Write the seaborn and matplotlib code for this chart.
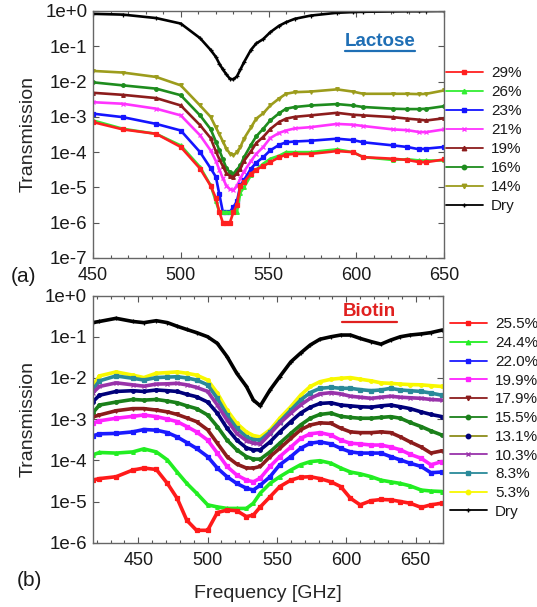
import numpy as np
import pandas as pd
import matplotlib
matplotlib.use("Agg")
import matplotlib.pyplot as plt
from matplotlib.lines import Line2D
from matplotlib.ticker import FixedLocator, MultipleLocator, FuncFormatter, NullLocator
import seaborn as sns

# ---------------- panel (a): lactose ----------------
FREQ_A = [450, 467, 486, 500, 511, 517, 520, 522, 524, 526, 528, 530, 532, 534, 536,
          540, 543, 547, 551, 556, 560, 565, 574, 589, 598, 604, 621, 629, 636, 640, 650]

LAC_DRY = [8.3e-1, 7.9e-1, 6.3e-1, 4.4e-1, 1.7e-1, 7.9e-2, 5.0e-2, 3.2e-2, 2.2e-2, 1.6e-2,
           1.2e-2, 1.15e-2, 1.4e-2, 2.2e-2, 3.5e-2, 7.9e-2, 1.2e-1, 1.6e-1, 2.5e-1, 3.8e-1,
           4.8e-1, 6.0e-1, 7.4e-1, 8.9e-1, 9.3e-1, 9.5e-1, 9.7e-1, 9.8e-1, 9.8e-1, 9.9e-1, 1.0]
LAC_14 = [2.0e-2, 1.8e-2, 1.35e-2, 7.8e-3, 2.1e-3, 1.0e-3, 5.0e-4, 3.2e-4, 2.0e-4, 1.26e-4,
          9.1e-5, 8.1e-5, 1.0e-4, 1.4e-4, 2.4e-4, 5.0e-4, 8.9e-4, 1.26e-3, 2.1e-3, 3.3e-3,
          4.5e-3, 5.0e-3, 5.2e-3, 6.0e-3, 5.2e-3, 4.5e-3, 4.5e-3, 4.5e-3, 4.4e-3, 4.5e-3, 5.6e-3]
LAC_16 = [9.5e-3, 7.8e-3, 6.3e-3, 4.1e-3, 1.1e-3, 4.5e-4, 2.0e-4, 1.12e-4, 6.3e-5, 3.5e-5,
          2.7e-5, 2.45e-5, 3.2e-5, 4.2e-5, 7.1e-5, 1.6e-4, 2.8e-4, 4.6e-4, 7.9e-4, 1.26e-3,
          1.7e-3, 1.9e-3, 2.1e-3, 2.3e-3, 2.1e-3, 1.9e-3, 1.7e-3, 1.66e-3, 1.66e-3, 1.7e-3, 2.0e-3]
LAC_19 = [4.8e-3, 4.2e-3, 3.4e-3, 2.1e-3, 5.8e-4, 2.5e-4, 1.05e-4, 6.3e-5, 4.0e-5, 2.5e-5,
          2.1e-5, 1.95e-5, 2.5e-5, 3.4e-5, 5.6e-5, 1.05e-4, 1.8e-4, 2.7e-4, 4.5e-4, 7.1e-4,
          8.9e-4, 1.0e-3, 1.1e-3, 1.3e-3, 1.15e-3, 1.1e-3, 9.8e-4, 8.9e-4, 8.3e-4, 7.9e-4, 9.1e-4]
LAC_21 = [2.6e-3, 2.35e-3, 1.7e-3, 1.1e-3, 3.0e-4, 1.12e-4, 5.6e-5, 3.2e-5, 1.8e-5, 1.12e-5,
          8.9e-6, 8.3e-6, 1.12e-5, 1.8e-5, 2.8e-5, 5.6e-5, 8.9e-5, 1.4e-4, 2.5e-4, 3.5e-4,
          4.1e-4, 4.7e-4, 5.1e-4, 6.3e-4, 6.0e-4, 5.5e-4, 4.4e-4, 4.2e-4, 3.7e-4, 3.7e-4, 4.4e-4]
LAC_23 = [1.23e-3, 9.8e-4, 6.3e-4, 4.1e-4, 1.0e-4, 3.5e-5, 2.0e-5, 6.3e-6, 2.0e-6, 2.0e-6,
          2.0e-6, 2.8e-6, 4.0e-6, 1.15e-5, 1.6e-5, 3.4e-5, 5.0e-5, 7.2e-5, 1.12e-4, 1.6e-4,
          1.9e-4, 2.0e-4, 2.1e-4, 2.4e-4, 2.2e-4, 1.9e-4, 1.55e-4, 1.4e-4, 1.2e-4, 1.26e-4, 1.4e-4]
LAC_26 = [7.9e-4, 4.6e-4, 3.3e-4, 1.55e-4, 3.8e-5, 1.15e-5, 4.0e-6, 2.0e-6, 2.0e-6, 2.0e-6,
          2.0e-6, 2.0e-6, 2.0e-6, 7.1e-6, 1.0e-5, 2.2e-5, 3.2e-5, 4.7e-5, 6.5e-5, 7.9e-5,
          1.0e-4, 1.0e-4, 1.0e-4, 1.2e-4, 1.0e-4, 7.2e-5, 6.0e-5, 6.3e-5, 5.8e-5, 5.8e-5, 5.8e-5]
LAC_29 = [7.1e-4, 4.4e-4, 3.3e-4, 1.4e-4, 3.4e-5, 1.12e-5, 5.0e-6, 2.0e-6, 1.0e-6, 1.0e-6,
          1.0e-6, 2.0e-6, 3.2e-6, 1.12e-5, 1.4e-5, 2.45e-5, 3.2e-5, 4.0e-5, 5.2e-5, 7.1e-5,
          8.5e-5, 8.9e-5, 8.9e-5, 1.07e-4, 1.0e-4, 7.2e-5, 6.5e-5, 6.0e-5, 5.2e-5, 5.2e-5, 6.2e-5]

LABELS_A = ["29%", "26%", "23%", "21%", "19%", "16%", "14%", "Dry"]
SERIES_A = [LAC_29, LAC_26, LAC_23, LAC_21, LAC_19, LAC_16, LAC_14, LAC_DRY]
COLORS_A = ["#ff2020", "#33ee33", "#1414ff", "#ff33ff", "#8c1c1c", "#1e8c1e", "#9c9c1c", "#000000"]
MARKERS_A = ["s", "^", "s", "x", "^", "o", "v", "+"]

# ---------------- panel (b): biotin ----------------
FREQ_B = [417, 422, 434, 446, 454, 463, 471, 478, 485, 492, 500, 507, 514, 521, 528, 533, 538,
          545, 552, 560, 567, 574, 581, 589, 596, 603, 610, 618, 625, 632, 639, 646, 654, 661, 669]

BIO_DRY = [2.2e-1, 2.35e-1, 2.8e-1, 2.35e-1, 2.2e-1, 2.45e-1, 2.2e-1, 1.8e-1, 1.5e-1, 1.26e-1,
           1.0e-1, 6.9e-2, 3.3e-2, 1.3e-2, 6.2e-3, 2.9e-3, 2.1e-3, 5.1e-3, 1.07e-2, 2.45e-2,
           4.0e-2, 6.3e-2, 8.7e-2, 1.0e-1, 1.1e-1, 1.1e-1, 9.1e-2, 7.6e-2, 6.6e-2, 8.3e-2,
           1.0e-1, 1.1e-1, 1.17e-1, 1.26e-1, 1.45e-1]
BIO_53 = [6.2e-3, 1.12e-2, 1.4e-2, 1.17e-2, 1.02e-2, 1.3e-2, 1.35e-2, 1.4e-2, 1.3e-2, 1.17e-2,
          8.9e-3, 4.3e-3, 1.66e-3, 7.9e-4, 4.9e-4, 4.0e-4, 3.7e-4, 5.5e-4, 1.05e-3, 2.0e-3,
          3.8e-3, 6.2e-3, 8.1e-3, 9.3e-3, 9.8e-3, 1.02e-2, 9.3e-3, 8.5e-3, 7.6e-3, 7.4e-3,
          7.1e-3, 6.9e-3, 6.8e-3, 6.5e-3, 6.2e-3]
BIO_83 = [5.1e-3, 8.5e-3, 1.12e-2, 9.8e-3, 8.9e-3, 1.02e-2, 1.05e-2, 1.07e-2, 1.0e-2, 8.9e-3,
          6.8e-3, 3.2e-3, 1.26e-3, 6.0e-4, 3.7e-4, 3.2e-4, 3.1e-4, 4.9e-4, 8.7e-4, 1.66e-3,
          2.9e-3, 4.4e-3, 5.6e-3, 5.9e-3, 5.6e-3, 5.6e-3, 5.2e-3, 4.9e-3, 5.1e-3, 5.6e-3,
          5.1e-3, 4.9e-3, 4.7e-3, 4.3e-3, 3.8e-3]
BIO_103 = [4.3e-3, 6.2e-3, 7.6e-3, 6.8e-3, 6.3e-3, 7.1e-3, 7.2e-3, 7.4e-3, 6.8e-3, 5.9e-3,
           4.7e-3, 2.2e-3, 9.5e-4, 4.5e-4, 3.0e-4, 2.6e-4, 2.5e-4, 4.4e-4, 7.9e-4, 1.4e-3,
           2.2e-3, 3.2e-3, 4.1e-3, 4.4e-3, 4.1e-3, 3.6e-3, 3.4e-3, 3.2e-3, 3.4e-3, 3.6e-3,
           3.4e-3, 3.3e-3, 3.2e-3, 3.0e-3, 2.9e-3]
BIO_131 = [2.6e-3, 3.8e-3, 4.7e-3, 4.9e-3, 4.7e-3, 5.1e-3, 4.9e-3, 4.7e-3, 4.0e-3, 3.5e-3,
           2.6e-3, 1.4e-3, 6.0e-4, 3.1e-4, 2.0e-4, 1.8e-4, 1.8e-4, 2.8e-4, 4.9e-4, 8.7e-4,
           1.4e-3, 1.95e-3, 2.4e-3, 2.5e-3, 2.2e-3, 2.1e-3, 2.0e-3, 1.95e-3, 2.1e-3, 2.2e-3,
           2.0e-3, 1.8e-3, 1.5e-3, 1.3e-3, 1.15e-3]
BIO_155 = [1.4e-3, 2.2e-3, 2.6e-3, 3.0e-3, 2.9e-3, 3.0e-3, 2.75e-3, 2.5e-3, 2.1e-3, 1.8e-3,
           1.26e-3, 6.6e-4, 3.1e-4, 1.8e-4, 1.23e-4, 1.07e-4, 1.07e-4, 1.6e-4, 2.6e-4, 4.5e-4,
           7.2e-4, 1.05e-3, 1.3e-3, 1.4e-3, 1.17e-3, 1.1e-3, 1.05e-3, 1.05e-3, 1.1e-3, 1.15e-3,
           1.05e-3, 8.3e-4, 6.6e-4, 5.2e-4, 4.1e-4]
BIO_179 = [1.12e-3, 1.26e-3, 1.6e-3, 1.8e-3, 1.8e-3, 1.66e-3, 1.5e-3, 1.3e-3, 1.07e-3, 8.7e-4,
           5.5e-4, 2.6e-4, 1.23e-4, 8.1e-5, 6.5e-5, 6.5e-5, 7.1e-5, 1.23e-4, 1.95e-4, 3.4e-4,
           5.5e-4, 7.2e-4, 8.1e-4, 7.9e-4, 6.0e-4, 4.9e-4, 4.7e-4, 4.7e-4, 4.9e-4, 4.7e-4,
           3.7e-4, 2.8e-4, 2.1e-4, 1.5e-4, 1.7e-4]
BIO_199 = [7.9e-4, 9.1e-4, 1.05e-3, 1.17e-3, 1.26e-3, 1.15e-3, 1.0e-3, 8.7e-4, 6.6e-4, 4.9e-4,
           3.1e-4, 1.5e-4, 7.1e-5, 4.4e-5, 3.3e-5, 3.0e-5, 3.7e-5, 7.1e-5, 1.23e-4, 2.1e-4,
           3.4e-4, 4.4e-4, 4.7e-4, 4.1e-4, 3.1e-4, 2.6e-4, 2.5e-4, 2.35e-4, 2.35e-4, 2.1e-4,
           1.8e-4, 1.4e-4, 1.12e-4, 7.8e-5, 9.3e-5]
BIO_220 = [3.9e-4, 4.4e-4, 4.5e-4, 4.9e-4, 5.6e-4, 5.4e-4, 4.7e-4, 3.7e-4, 2.7e-4, 1.95e-4,
           1.23e-4, 6.5e-5, 4.0e-5, 2.75e-5, 2.1e-5, 1.9e-5, 2.5e-5, 4.0e-5, 7.8e-5, 1.23e-4,
           1.95e-4, 2.6e-4, 2.8e-4, 2.5e-4, 1.95e-4, 1.6e-4, 1.5e-4, 1.5e-4, 1.5e-4, 1.23e-4,
           1.02e-4, 8.5e-5, 7.1e-5, 5.0e-5, 5.2e-5]
BIO_244 = [1.35e-4, 1.55e-4, 1.5e-4, 1.6e-4, 1.9e-4, 1.6e-4, 1.02e-4, 5.2e-5, 2.75e-5, 1.6e-5,
           8.3e-6, 7.4e-6, 6.8e-6, 6.8e-6, 6.8e-6, 9.1e-6, 1.6e-5, 2.75e-5, 4.0e-5, 5.8e-5,
           7.8e-5, 9.3e-5, 9.8e-5, 8.5e-5, 6.5e-5, 5.2e-5, 4.7e-5, 4.0e-5, 3.3e-5, 3.0e-5,
           2.75e-5, 2.4e-5, 1.9e-5, 1.8e-5, 1.75e-5]
BIO_255 = [3.3e-5, 3.6e-5, 4.0e-5, 5.8e-5, 6.5e-5, 6.0e-5, 2.75e-5, 1.2e-5, 3.5e-6, 2.0e-6,
           2.0e-6, 5.4e-6, 6.2e-6, 6.0e-6, 4.3e-6, 4.7e-6, 7.4e-6, 1.3e-5, 2.3e-5, 3.3e-5,
           3.9e-5, 4.0e-5, 3.6e-5, 3.0e-5, 2.3e-5, 1.2e-5, 8.3e-6, 1.05e-5, 1.12e-5, 1.1e-5,
           1.0e-5, 9.1e-6, 7.2e-6, 8.3e-6, 9.1e-6]

LABELS_B = ["25.5%", "24.4%", "22.0%", "19.9%", "17.9%", "15.5%", "13.1%", "10.3%", "8.3%",
            "5.3%", "Dry"]
SERIES_B = [BIO_255, BIO_244, BIO_220, BIO_199, BIO_179, BIO_155, BIO_131, BIO_103, BIO_83,
            BIO_53, BIO_DRY]
COLORS_B = ["#ff1a1a", "#22ee22", "#1a1aff", "#ff22ff", "#8c1c1c", "#1a801a", "#00007a",
            "#9933aa", "#2a8a9a", "#f8f800", "#000000"]
MARKERS_B = ["s", "^", "s", "s", "v", "o", "o", "x", "s", "o", "+"]
# the 13.1 % key shows an olive line with a navy marker
LEGEND_LINE_B = list(COLORS_B)
LEGEND_LINE_B[6] = "#8c8c1a"

sns.set_style("ticks")
plt.rcParams["font.family"] = ["Liberation Sans", "DejaVu Sans"]
plt.rcParams["text.color"] = "#1a1a1a"

fig = plt.figure(figsize=(5.37, 6.07), dpi=100)
ax_a = fig.add_axes([0.1732, 0.575, 0.6536, 0.4069])
ax_b = fig.add_axes([0.1723, 0.1059, 0.6533, 0.4072])


def draw(ax, freq, series, colors, markers, lw, ms):
    for vals, c, m in reversed(list(zip(series, colors, markers))):
        df = pd.DataFrame({"freq": freq, "T": vals})
        sns.lineplot(data=df, x="freq", y="T", ax=ax, color=c, marker=m,
                     linewidth=lw, markersize=ms, markeredgewidth=0.9,
                     markeredgecolor=None, estimator=None, sort=False, legend=False)


draw(ax_a, FREQ_A, SERIES_A, COLORS_A, MARKERS_A, 1.9, 2.6)
draw(ax_b, FREQ_B, SERIES_B, COLORS_B, MARKERS_B, 2.6, 2.6)

exp_fmt = FuncFormatter(lambda v, pos: "1e{:+d}".format(int(round(np.log10(v)))))


def style(ax, xlim, ylow, xstep):
    ax.set_yscale("log")
    ax.set_xlim(*xlim)
    ax.set_ylim(10.0 ** ylow, 1.0)
    ax.yaxis.set_major_locator(FixedLocator([10.0 ** k for k in range(ylow, 1)]))
    ax.yaxis.set_minor_locator(NullLocator())
    ax.yaxis.set_major_formatter(exp_fmt)
    ax.xaxis.set_major_locator(MultipleLocator(xstep))
    ax.xaxis.set_minor_locator(MultipleLocator(10))
    ax.tick_params(which="both", direction="in", top=True, right=True,
                   colors="#555555", labelcolor="#1a1a1a", width=0.8)
    ax.tick_params(which="major", length=4)
    ax.tick_params(which="minor", length=2.5)
    ax.tick_params(axis="x", pad=6.5, labelsize=13)
    ax.tick_params(axis="y", pad=4, labelsize=13.5)
    for sp in ax.spines.values():
        sp.set_color("#666666")
        sp.set_linewidth(1.0)
    ax.set_xlabel("")
    ax.set_ylabel("Transmission", fontsize=14)


style(ax_a, (450, 650), -7, 50)
style(ax_b, (417, 670), -6, 50)
ax_a.yaxis.set_label_coords(-0.162, 0.5)
ax_b.yaxis.set_label_coords(-0.160, 0.5)
ax_b.set_xlabel("Frequency [GHz]", fontsize=14)
ax_b.xaxis.set_label_coords(0.5, -0.172)


def key(labels, line_colors, marker_colors, markers, anchor, spacing):
    handles = [Line2D([], [], color=lc, marker=m, markersize=3.2, markeredgewidth=1.0,
                      markerfacecolor=mc, markeredgecolor=mc, linewidth=1.3)
               for lc, mc, m in zip(line_colors, marker_colors, markers)]
    fig.legend(handles, labels, loc="upper left", bbox_to_anchor=anchor,
               frameon=False, fontsize=11, handlelength=2.4, handletextpad=0.55,
               labelspacing=spacing, borderpad=0, borderaxespad=0)


key(LABELS_A, COLORS_A, COLORS_A, MARKERS_A, (0.8305, 0.8915), 0.33)
key(LABELS_B, LEGEND_LINE_B, COLORS_B, MARKERS_B, (0.838, 0.477), 0.31)

fig.text(380 / 537, 1 - 41 / 607, "Lactose", color="#1f6fb5", fontsize=13.5,
         fontweight="bold", ha="center", va="center")
fig.add_artist(Line2D([345 / 537, 415 / 537], [1 - 50.5 / 607, 1 - 50.5 / 607],
                      color="#1f6fb5", linewidth=1.6))
fig.text(369.5 / 537, 1 - 311.7 / 607, "Biotin", color="#e0201f", fontsize=13.5,
         fontweight="bold", ha="center", va="center")
fig.add_artist(Line2D([341.7 / 537, 397.3 / 537], [1 - 322.3 / 607, 1 - 322.3 / 607],
                      color="#e0201f", linewidth=1.6))

fig.text(23 / 537, 1 - 276 / 607, "(a)", fontsize=15, ha="center", va="center")
fig.text(29 / 537, 1 - 581 / 607, "(b)", fontsize=15, ha="center", va="center")

fig.savefig("out.png", dpi=100, facecolor="white")
